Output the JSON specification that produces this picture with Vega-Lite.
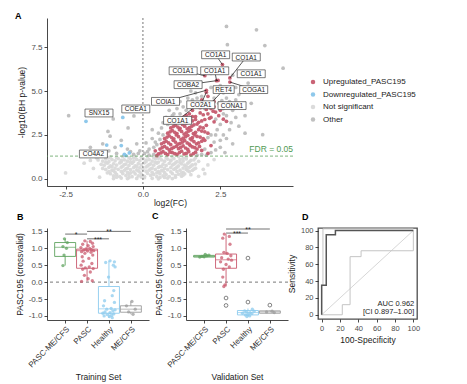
{
"$schema":"https://vega.github.io/schema/vega-lite/v6.json",
"background":"white",
"padding":{"left":15,"top":11,"right":4,"bottom":4},
"config":{"font":"Liberation Sans","view":{"stroke":null},
 "axis":{"grid":false,"domainColor":"#1a1a1a","domainWidth":0.8,"tickColor":"#1a1a1a","tickWidth":0.8,"tickSize":3,"labelColor":"#4d4d4d","labelFontSize":8,"labelPadding":2,"titleFontSize":8.5,"titleFontWeight":"normal","titleColor":"#1a1a1a","labelOverlap":false},
 "title":{"fontSize":9,"fontWeight":"bold","anchor":"start","frame":"group","color":"#000"}},
"resolve":{"scale":{"color":"independent","stroke":"independent"}},
"datasets":{
"volcano":[
{"x":-0.7,"y":0.05,"g":"ns"},{"x":-0.45,"y":0.08,"g":"ns"},{"x":-0.2,"y":0.03,"g":"ns"},{"x":0.05,"y":0.07,"g":"ns"},{"x":0.3,"y":0.04,"g":"ns"},{"x":0.55,"y":0.09,"g":"ns"},{"x":0.8,"y":0.05,"g":"ns"},{"x":1.05,"y":0.1,"g":"ns"},
{"x":-0.95,"y":0.18,"g":"ns"},{"x":-0.75,"y":0.14,"g":"ns"},{"x":-0.55,"y":0.19,"g":"ns"},{"x":-0.35,"y":0.13,"g":"ns"},{"x":-0.15,"y":0.17,"g":"ns"},{"x":0.05,"y":0.15,"g":"ns"},{"x":0.25,"y":0.2,"g":"ns"},{"x":0.45,"y":0.13,"g":"ns"},{"x":0.65,"y":0.18,"g":"ns"},{"x":0.85,"y":0.14,"g":"ns"},{"x":1.05,"y":0.19,"g":"ns"},{"x":1.25,"y":0.16,"g":"ns"},
{"x":-1.05,"y":0.3,"g":"ns"},{"x":-0.85,"y":0.26,"g":"ns"},{"x":-0.65,"y":0.31,"g":"ns"},{"x":-0.45,"y":0.25,"g":"ns"},{"x":-0.25,"y":0.29,"g":"ns"},{"x":-0.05,"y":0.27,"g":"ns"},{"x":0.15,"y":0.32,"g":"ns"},{"x":0.35,"y":0.26,"g":"ns"},{"x":0.55,"y":0.3,"g":"ns"},{"x":0.75,"y":0.25,"g":"ns"},{"x":0.95,"y":0.31,"g":"ns"},{"x":1.15,"y":0.27,"g":"ns"},{"x":1.35,"y":0.29,"g":"ns"},{"x":1.55,"y":0.24,"g":"ns"},
{"x":-1.1,"y":0.42,"g":"ns"},{"x":-0.9,"y":0.38,"g":"ns"},{"x":-0.7,"y":0.43,"g":"ns"},{"x":-0.5,"y":0.37,"g":"ns"},{"x":-0.3,"y":0.41,"g":"ns"},{"x":-0.1,"y":0.39,"g":"ns"},{"x":0.1,"y":0.44,"g":"ns"},{"x":0.3,"y":0.38,"g":"ns"},{"x":0.5,"y":0.42,"g":"ns"},{"x":0.7,"y":0.36,"g":"ns"},{"x":0.9,"y":0.41,"g":"ns"},{"x":1.1,"y":0.43,"g":"ns"},{"x":1.3,"y":0.38,"g":"ns"},{"x":1.5,"y":0.42,"g":"ns"},
{"x":-1.2,"y":0.54,"g":"ns"},{"x":-1.0,"y":0.5,"g":"ns"},{"x":-0.8,"y":0.55,"g":"ns"},{"x":-0.6,"y":0.49,"g":"ns"},{"x":-0.4,"y":0.53,"g":"ns"},{"x":-0.2,"y":0.51,"g":"ns"},{"x":0,"y":0.56,"g":"ns"},{"x":0.2,"y":0.5,"g":"ns"},{"x":0.4,"y":0.54,"g":"ns"},{"x":0.6,"y":0.48,"g":"ns"},{"x":0.8,"y":0.53,"g":"ns"},{"x":1.0,"y":0.55,"g":"ns"},{"x":1.2,"y":0.5,"g":"ns"},{"x":1.4,"y":0.54,"g":"ns"},{"x":1.6,"y":0.49,"g":"ns"},
{"x":-1.1,"y":0.66,"g":"ns"},{"x":-0.9,"y":0.62,"g":"ns"},{"x":-0.7,"y":0.67,"g":"ns"},{"x":-0.5,"y":0.61,"g":"ns"},{"x":-0.3,"y":0.65,"g":"ns"},{"x":-0.1,"y":0.63,"g":"ns"},{"x":0.1,"y":0.68,"g":"ns"},{"x":0.3,"y":0.62,"g":"ns"},{"x":0.5,"y":0.66,"g":"ns"},{"x":0.7,"y":0.6,"g":"ns"},{"x":0.9,"y":0.65,"g":"ns"},{"x":1.1,"y":0.67,"g":"ns"},{"x":1.3,"y":0.62,"g":"ns"},{"x":1.5,"y":0.66,"g":"ns"},{"x":1.7,"y":0.61,"g":"ns"},
{"x":-1.25,"y":0.78,"g":"ns"},{"x":-1.05,"y":0.74,"g":"ns"},{"x":-0.85,"y":0.79,"g":"ns"},{"x":-0.65,"y":0.73,"g":"ns"},{"x":-0.45,"y":0.77,"g":"ns"},{"x":-0.25,"y":0.75,"g":"ns"},{"x":-0.05,"y":0.8,"g":"ns"},{"x":0.15,"y":0.74,"g":"ns"},{"x":0.35,"y":0.78,"g":"ns"},{"x":0.55,"y":0.72,"g":"ns"},{"x":0.75,"y":0.77,"g":"ns"},{"x":0.95,"y":0.79,"g":"ns"},{"x":1.15,"y":0.74,"g":"ns"},{"x":1.35,"y":0.78,"g":"ns"},{"x":1.55,"y":0.73,"g":"ns"},
{"x":-1.15,"y":0.9,"g":"ns"},{"x":-0.95,"y":0.86,"g":"ns"},{"x":-0.75,"y":0.91,"g":"ns"},{"x":-0.55,"y":0.85,"g":"ns"},{"x":-0.35,"y":0.89,"g":"ns"},{"x":-0.15,"y":0.87,"g":"ns"},{"x":0.05,"y":0.92,"g":"ns"},{"x":0.25,"y":0.86,"g":"ns"},{"x":0.45,"y":0.9,"g":"ns"},{"x":0.65,"y":0.84,"g":"ns"},{"x":0.85,"y":0.89,"g":"ns"},{"x":1.05,"y":0.91,"g":"ns"},{"x":1.25,"y":0.86,"g":"ns"},{"x":1.45,"y":0.9,"g":"ns"},{"x":1.7,"y":0.85,"g":"ns"},
{"x":-1.3,"y":1.02,"g":"ns"},{"x":-1.1,"y":0.98,"g":"ns"},{"x":-0.9,"y":1.03,"g":"ns"},{"x":-0.7,"y":0.97,"g":"ns"},{"x":-0.5,"y":1.01,"g":"ns"},{"x":-0.3,"y":0.99,"g":"ns"},{"x":-0.1,"y":1.04,"g":"ns"},{"x":0.1,"y":0.98,"g":"ns"},{"x":0.3,"y":1.02,"g":"ns"},{"x":0.5,"y":0.96,"g":"ns"},{"x":0.7,"y":1.01,"g":"ns"},{"x":0.9,"y":1.03,"g":"ns"},{"x":1.1,"y":0.98,"g":"ns"},{"x":1.3,"y":1.02,"g":"ns"},{"x":1.5,"y":0.97,"g":"ns"},{"x":1.8,"y":1.0,"g":"ns"},
{"x":-1.2,"y":1.14,"g":"ns"},{"x":-1.0,"y":1.1,"g":"ns"},{"x":-0.8,"y":1.15,"g":"ns"},{"x":-0.6,"y":1.09,"g":"ns"},{"x":-0.4,"y":1.13,"g":"ns"},{"x":-0.2,"y":1.11,"g":"ns"},{"x":0,"y":1.16,"g":"ns"},{"x":0.2,"y":1.1,"g":"ns"},{"x":0.4,"y":1.14,"g":"ns"},{"x":0.6,"y":1.08,"g":"ns"},{"x":0.8,"y":1.13,"g":"ns"},{"x":1.0,"y":1.15,"g":"ns"},{"x":1.2,"y":1.1,"g":"ns"},{"x":1.4,"y":1.14,"g":"ns"},{"x":1.65,"y":1.09,"g":"ns"},
{"x":-1.05,"y":1.26,"g":"ns"},{"x":-0.85,"y":1.22,"g":"ns"},{"x":-0.65,"y":1.27,"g":"ns"},{"x":-0.45,"y":1.21,"g":"ns"},{"x":-0.25,"y":1.25,"g":"ns"},{"x":-0.05,"y":1.23,"g":"ns"},{"x":0.15,"y":1.27,"g":"ns"},{"x":0.35,"y":1.22,"g":"ns"},{"x":0.55,"y":1.26,"g":"ns"},{"x":0.75,"y":1.2,"g":"ns"},{"x":0.95,"y":1.25,"g":"ns"},{"x":1.15,"y":1.27,"g":"ns"},{"x":1.4,"y":1.22,"g":"ns"},
{"x":-0.85,"y":0.1,"g":"ns"},{"x":-0.05,"y":0.11,"g":"ns"},{"x":0.7,"y":0.09,"g":"ns"},{"x":1.3,"y":0.22,"g":"ns"},{"x":-1.15,"y":0.35,"g":"ns"},{"x":-0.4,"y":0.34,"g":"ns"},{"x":0.45,"y":0.35,"g":"ns"},{"x":1.25,"y":0.33,"g":"ns"},{"x":-0.95,"y":0.47,"g":"ns"},{"x":-0.15,"y":0.46,"g":"ns"},{"x":0.65,"y":0.47,"g":"ns"},{"x":1.45,"y":0.47,"g":"ns"},{"x":-1.3,"y":0.6,"g":"ns"},{"x":-0.55,"y":0.58,"g":"ns"},{"x":0.25,"y":0.58,"g":"ns"},{"x":1.05,"y":0.6,"g":"ns"},{"x":1.65,"y":0.56,"g":"ns"},{"x":-1.0,"y":0.7,"g":"ns"},{"x":-0.2,"y":0.71,"g":"ns"},{"x":0.6,"y":0.7,"g":"ns"},{"x":1.4,"y":0.71,"g":"ns"},{"x":-1.35,"y":0.83,"g":"ns"},{"x":-0.6,"y":0.82,"g":"ns"},{"x":0.2,"y":0.81,"g":"ns"},{"x":1.0,"y":0.84,"g":"ns"},{"x":1.6,"y":0.8,"g":"ns"},{"x":-1.2,"y":0.95,"g":"ns"},{"x":-0.4,"y":0.94,"g":"ns"},{"x":0.4,"y":0.95,"g":"ns"},{"x":1.2,"y":0.94,"g":"ns"},{"x":-1.45,"y":1.08,"g":"ns"},{"x":-0.7,"y":1.06,"g":"ns"},{"x":0.1,"y":1.07,"g":"ns"},{"x":0.9,"y":1.06,"g":"ns"},{"x":1.55,"y":1.05,"g":"ns"},{"x":-1.1,"y":1.2,"g":"ns"},{"x":-0.3,"y":1.19,"g":"ns"},{"x":0.5,"y":1.18,"g":"ns"},{"x":1.3,"y":1.18,"g":"ns"},{"x":1.7,"y":1.2,"g":"ns"},{"x":-0.5,"y":0.02,"g":"ns"},{"x":0.5,"y":0.01,"g":"ns"},{"x":0.95,"y":0.02,"g":"ns"},{"x":-0.95,"y":0.02,"g":"ns"},
{"x":-2.5,"y":0.34,"g":"ns"},{"x":-1.9,"y":0.9,"g":"ns"},{"x":-1.6,"y":0.6,"g":"ns"},{"x":-1.5,"y":1.2,"g":"ns"},{"x":2.1,"y":0.8,"g":"ns"},{"x":2.3,"y":1.1,"g":"ns"},{"x":2.0,"y":0.3,"g":"ns"},{"x":-1.4,"y":0.1,"g":"ns"},{"x":1.8,"y":0.15,"g":"ns"},{"x":-1.7,"y":1.05,"g":"ns"},{"x":1.95,"y":0.55,"g":"ns"},
{"x":-2.4,"y":3.6,"g":"other"},{"x":-0.96,"y":3.41,"g":"other"},{"x":-1.13,"y":2.7,"g":"other"},{"x":-1.06,"y":2.43,"g":"other"},{"x":-0.48,"y":2.9,"g":"other"},{"x":-0.29,"y":3.58,"g":"other"},{"x":-1.5,"y":1.5,"g":"other"},{"x":-1.3,"y":2.0,"g":"other"},{"x":-1.1,"y":1.6,"g":"other"},{"x":-0.85,"y":1.45,"g":"other"},{"x":-0.5,"y":1.7,"g":"other"},{"x":-0.3,"y":1.4,"g":"other"},{"x":-0.2,"y":2.0,"g":"other"},{"x":-0.7,"y":2.2,"g":"other"},{"x":-1.7,"y":1.8,"g":"other"},{"x":-0.1,"y":1.6,"g":"other"},{"x":-0.6,"y":1.35,"g":"other"},{"x":-1.35,"y":1.35,"g":"other"},
{"x":0.05,"y":1.45,"g":"other"},{"x":0.2,"y":1.7,"g":"other"},{"x":0.35,"y":1.4,"g":"other"},{"x":0.1,"y":2.05,"g":"other"},{"x":0.3,"y":2.3,"g":"other"},{"x":0.45,"y":1.95,"g":"other"},{"x":0.5,"y":2.6,"g":"other"},{"x":0.6,"y":2.9,"g":"other"},{"x":0.65,"y":3.2,"g":"other"},{"x":0.75,"y":3.5,"g":"other"},{"x":0.9,"y":3.4,"g":"other"},{"x":0.85,"y":3.9,"g":"other"},{"x":1.0,"y":3.7,"g":"other"},{"x":1.1,"y":4.0,"g":"other"},{"x":1.2,"y":4.4,"g":"other"},{"x":1.3,"y":4.1,"g":"other"},{"x":1.45,"y":4.6,"g":"other"},{"x":1.6,"y":4.5,"g":"other"},{"x":1.7,"y":4.9,"g":"other"},{"x":1.8,"y":5.3,"g":"other"},{"x":1.55,"y":5.0,"g":"other"},{"x":1.9,"y":4.7,"g":"other"},{"x":2.2,"y":5.2,"g":"other"},{"x":2.5,"y":5.3,"g":"other"},{"x":2.6,"y":4.9,"g":"other"},{"x":2.3,"y":4.6,"g":"other"},{"x":2.45,"y":4.3,"g":"other"},{"x":2.6,"y":4.0,"g":"other"},{"x":2.8,"y":4.4,"g":"other"},{"x":2.9,"y":3.9,"g":"other"},{"x":3.0,"y":4.5,"g":"other"},{"x":3.2,"y":4.2,"g":"other"},{"x":2.7,"y":3.6,"g":"other"},{"x":2.5,"y":3.1,"g":"other"},{"x":2.85,"y":3.2,"g":"other"},{"x":2.4,"y":2.8,"g":"other"},{"x":2.2,"y":2.5,"g":"other"},{"x":2.6,"y":2.5,"g":"other"},{"x":2.3,"y":2.1,"g":"other"},{"x":2.0,"y":1.7,"g":"other"},{"x":2.2,"y":1.5,"g":"other"},{"x":2.5,"y":1.8,"g":"other"},{"x":1.9,"y":1.4,"g":"other"},{"x":2.7,"y":2.3,"g":"other"},{"x":3.1,"y":3.0,"g":"other"},{"x":2.9,"y":5.9,"g":"other"},{"x":3.0,"y":5.2,"g":"other"},{"x":2.2,"y":6.0,"g":"other"},{"x":1.4,"y":3.9,"g":"other"},{"x":0.3,"y":2.8,"g":"other"},{"x":2.73,"y":7.63,"g":"other"},{"x":2.7,"y":8.67,"g":"other"},{"x":3.67,"y":8.48,"g":"other"},{"x":3.94,"y":7.58,"g":"other"},{"x":4.53,"y":6.3,"g":"other"},{"x":3.87,"y":2.52,"g":"other"},{"x":3.4,"y":5.45,"g":"other"},{"x":1.75,"y":1.35,"g":"other"},{"x":2.35,"y":3.4,"g":"other"},{"x":0.2,"y":1.35,"g":"other"},{"x":0.55,"y":2.25,"g":"other"},{"x":1.05,"y":4.3,"g":"other"},{"x":2.0,"y":4.0,"g":"other"},{"x":1.65,"y":4.2,"g":"other"},{"x":3.3,"y":3.6,"g":"other"},
{"x":1.2,"y":3.7,"g":"other"},{"x":1.5,"y":4.3,"g":"other"},{"x":1.75,"y":4.6,"g":"other"},{"x":2.4,"y":5.0,"g":"other"},{"x":2.7,"y":4.6,"g":"other"},{"x":2.55,"y":4.45,"g":"other"},{"x":2.9,"y":4.2,"g":"other"},{"x":3.1,"y":4.8,"g":"other"},{"x":2.35,"y":2.5,"g":"other"},{"x":2.5,"y":2.2,"g":"other"},{"x":2.8,"y":2.8,"g":"other"},{"x":3.0,"y":3.5,"g":"other"},{"x":2.1,"y":2.35,"g":"other"},{"x":2.6,"y":3.7,"g":"other"},{"x":0.4,"y":2.1,"g":"other"},{"x":0.65,"y":2.5,"g":"other"},{"x":0.8,"y":3.1,"g":"other"},{"x":0.95,"y":3.6,"g":"other"},{"x":0.15,"y":1.55,"g":"other"},{"x":0.35,"y":1.8,"g":"other"},{"x":-0.15,"y":1.45,"g":"other"},{"x":-0.4,"y":1.55,"g":"other"},{"x":-0.9,"y":1.8,"g":"other"},{"x":-1.2,"y":1.4,"g":"other"},{"x":2.05,"y":1.35,"g":"other"},{"x":2.35,"y":1.65,"g":"other"},{"x":2.65,"y":1.5,"g":"other"},{"x":2.9,"y":2.0,"g":"other"},{"x":3.3,"y":2.6,"g":"other"},{"x":3.5,"y":4.3,"g":"other"},
{"x":0.5,"y":1.42,"g":"up"},{"x":0.65,"y":1.55,"g":"up"},{"x":0.8,"y":1.38,"g":"up"},{"x":0.95,"y":1.5,"g":"up"},{"x":1.1,"y":1.4,"g":"up"},{"x":1.25,"y":1.58,"g":"up"},{"x":1.4,"y":1.45,"g":"up"},{"x":1.55,"y":1.36,"g":"up"},{"x":1.7,"y":1.52,"g":"up"},
{"x":0.55,"y":1.7,"g":"up"},{"x":0.7,"y":1.85,"g":"up"},{"x":0.85,"y":1.65,"g":"up"},{"x":1.0,"y":1.8,"g":"up"},{"x":1.15,"y":1.72,"g":"up"},{"x":1.3,"y":1.88,"g":"up"},{"x":1.45,"y":1.68,"g":"up"},{"x":1.6,"y":1.82,"g":"up"},{"x":1.75,"y":1.7,"g":"up"},{"x":1.9,"y":1.62,"g":"up"},
{"x":0.6,"y":2.0,"g":"up"},{"x":0.75,"y":2.15,"g":"up"},{"x":0.9,"y":1.95,"g":"up"},{"x":1.05,"y":2.1,"g":"up"},{"x":1.2,"y":2.02,"g":"up"},{"x":1.35,"y":2.18,"g":"up"},{"x":1.5,"y":1.98,"g":"up"},{"x":1.65,"y":2.12,"g":"up"},{"x":1.8,"y":2.05,"g":"up"},{"x":2.0,"y":2.2,"g":"up"},
{"x":0.7,"y":2.3,"g":"up"},{"x":0.85,"y":2.45,"g":"up"},{"x":1.0,"y":2.28,"g":"up"},{"x":1.15,"y":2.4,"g":"up"},{"x":1.3,"y":2.32,"g":"up"},{"x":1.45,"y":2.48,"g":"up"},{"x":1.6,"y":2.35,"g":"up"},{"x":1.75,"y":2.42,"g":"up"},{"x":1.95,"y":2.3,"g":"up"},
{"x":0.8,"y":2.6,"g":"up"},{"x":0.95,"y":2.75,"g":"up"},{"x":1.1,"y":2.58,"g":"up"},{"x":1.25,"y":2.7,"g":"up"},{"x":1.4,"y":2.62,"g":"up"},{"x":1.55,"y":2.78,"g":"up"},{"x":1.7,"y":2.65,"g":"up"},{"x":1.9,"y":2.72,"g":"up"},{"x":2.1,"y":2.6,"g":"up"},
{"x":0.9,"y":2.9,"g":"up"},{"x":1.05,"y":3.05,"g":"up"},{"x":1.2,"y":2.88,"g":"up"},{"x":1.35,"y":3.0,"g":"up"},{"x":1.5,"y":2.92,"g":"up"},{"x":1.65,"y":3.08,"g":"up"},{"x":1.85,"y":2.95,"g":"up"},{"x":2.05,"y":3.05,"g":"up"},
{"x":1.0,"y":3.2,"g":"up"},{"x":1.2,"y":3.35,"g":"up"},{"x":1.4,"y":3.18,"g":"up"},{"x":1.6,"y":3.3,"g":"up"},{"x":1.8,"y":3.22,"g":"up"},{"x":2.0,"y":3.38,"g":"up"},{"x":2.3,"y":3.25,"g":"up"},
{"x":1.3,"y":3.5,"g":"up"},{"x":1.5,"y":3.7,"g":"up"},{"x":1.7,"y":3.55,"g":"up"},{"x":1.95,"y":3.65,"g":"up"},{"x":2.2,"y":3.5,"g":"up"},{"x":2.45,"y":3.6,"g":"up"},
{"x":1.6,"y":3.9,"g":"up"},{"x":1.85,"y":4.05,"g":"up"},{"x":2.05,"y":3.95,"g":"up"},{"x":2.3,"y":4.1,"g":"up"},
{"x":1.9,"y":4.5,"g":"up"},{"x":2.1,"y":4.7,"g":"up"},{"x":2.3,"y":4.4,"g":"up"},
{"x":0.58,"y":1.48,"g":"up"},{"x":0.73,"y":1.45,"g":"up"},{"x":0.88,"y":1.52,"g":"up"},{"x":1.03,"y":1.44,"g":"up"},{"x":1.18,"y":1.5,"g":"up"},{"x":1.33,"y":1.42,"g":"up"},{"x":1.48,"y":1.55,"g":"up"},{"x":1.63,"y":1.44,"g":"up"},
{"x":0.62,"y":1.78,"g":"up"},{"x":0.78,"y":1.75,"g":"up"},{"x":0.93,"y":1.72,"g":"up"},{"x":1.08,"y":1.86,"g":"up"},{"x":1.22,"y":1.8,"g":"up"},{"x":1.38,"y":1.76,"g":"up"},{"x":1.53,"y":1.9,"g":"up"},{"x":1.68,"y":1.78,"g":"up"},{"x":1.83,"y":1.85,"g":"up"},
{"x":0.68,"y":2.08,"g":"up"},{"x":0.83,"y":2.05,"g":"up"},{"x":0.98,"y":2.2,"g":"up"},{"x":1.13,"y":1.98,"g":"up"},{"x":1.28,"y":2.1,"g":"up"},{"x":1.43,"y":2.05,"g":"up"},{"x":1.58,"y":2.22,"g":"up"},{"x":1.73,"y":2.0,"g":"up"},{"x":1.9,"y":2.15,"g":"up"},
{"x":0.78,"y":2.38,"g":"up"},{"x":0.93,"y":2.35,"g":"up"},{"x":1.08,"y":2.5,"g":"up"},{"x":1.23,"y":2.25,"g":"up"},{"x":1.38,"y":2.4,"g":"up"},{"x":1.53,"y":2.28,"g":"up"},{"x":1.68,"y":2.5,"g":"up"},{"x":1.85,"y":2.38,"g":"up"},
{"x":0.88,"y":2.68,"g":"up"},{"x":1.03,"y":2.65,"g":"up"},{"x":1.18,"y":2.8,"g":"up"},{"x":1.33,"y":2.55,"g":"up"},{"x":1.48,"y":2.72,"g":"up"},{"x":1.63,"y":2.58,"g":"up"},{"x":1.8,"y":2.8,"g":"up"},{"x":2.0,"y":2.68,"g":"up"},
{"x":0.98,"y":2.98,"g":"up"},{"x":1.13,"y":2.95,"g":"up"},{"x":1.28,"y":3.1,"g":"up"},{"x":1.43,"y":2.85,"g":"up"},{"x":1.58,"y":3.0,"g":"up"},{"x":1.75,"y":3.12,"g":"up"},{"x":1.95,"y":2.9,"g":"up"},
{"x":1.1,"y":3.28,"g":"up"},{"x":1.3,"y":3.25,"g":"up"},{"x":1.5,"y":3.4,"g":"up"},{"x":1.7,"y":3.38,"g":"up"},{"x":1.9,"y":3.3,"g":"up"},{"x":2.15,"y":3.45,"g":"up"},
{"x":1.4,"y":3.62,"g":"up"},{"x":1.6,"y":3.55,"g":"up"},{"x":1.85,"y":3.75,"g":"up"},{"x":2.1,"y":3.7,"g":"up"},{"x":2.35,"y":3.8,"g":"up"},
{"x":1.75,"y":4.2,"g":"up"},{"x":1.95,"y":4.25,"g":"up"},{"x":2.2,"y":4.0,"g":"up"},
{"x":2.0,"y":5.87,"g":"up"},{"x":2.38,"y":5.59,"g":"up"},{"x":2.43,"y":5.6,"g":"up"},{"x":2.57,"y":6.5,"g":"up"},{"x":2.81,"y":5.74,"g":"up"},{"x":2.81,"y":5.51,"g":"up"},{"x":2.05,"y":5.04,"g":"up"},{"x":2.05,"y":4.93,"g":"up"},{"x":1.84,"y":4.32,"g":"up"},{"x":2.16,"y":4.22,"g":"up"},{"x":2.7,"y":3.28,"g":"up"},{"x":2.27,"y":3.85,"g":"up"},{"x":2.6,"y":3.4,"g":"up"},{"x":2.5,"y":3.9,"g":"up"},{"x":0.45,"y":1.32,"g":"up"},{"x":0.4,"y":1.6,"g":"up"},{"x":2.1,"y":1.45,"g":"up"},{"x":2.2,"y":1.9,"g":"up"},
{"x":-1.84,"y":3.28,"g":"down"},{"x":-0.65,"y":3.5,"g":"down"},{"x":-1.17,"y":1.93,"g":"down"},{"x":-0.7,"y":1.9,"g":"down"},{"x":-0.6,"y":1.4,"g":"down"},{"x":-0.44,"y":1.48,"g":"down"},{"x":-0.55,"y":1.33,"g":"down"}
],
"labels":[
{"gene":"CO1A1","lx":2.35,"ly":7.06,"px":2.57,"py":6.5},
{"gene":"CO1A1","lx":3.34,"ly":6.93,"px":2.81,"py":5.74},
{"gene":"CO1A1","lx":1.3,"ly":6.15,"px":2.0,"py":5.87},
{"gene":"CO1A1","lx":2.32,"ly":6.15,"px":2.38,"py":5.59},
{"gene":"CO1A1","lx":3.5,"ly":5.98},
{"gene":"COBA2","lx":1.46,"ly":5.36,"px":2.43,"py":5.6},
{"gene":"RET4","lx":2.61,"ly":5.08,"px":2.16,"py":4.22},
{"gene":"COGA1","lx":3.58,"ly":5.08,"px":2.81,"py":5.51},
{"gene":"COIA1","lx":0.73,"ly":4.41,"px":2.05,"py":5.04},
{"gene":"CO2A1","lx":1.87,"ly":4.22,"px":2.05,"py":4.93},
{"gene":"CONA1","lx":2.88,"ly":4.17},
{"gene":"CO1A1","lx":1.12,"ly":3.33,"px":1.84,"py":4.32},
{"gene":"SNX15","lx":-1.42,"ly":3.75},
{"gene":"COEA1","lx":-0.23,"ly":3.98},
{"gene":"CO4A2","lx":-1.6,"ly":1.42}
],
"boxB":[
{"x":1,"g":"PASC-ME/CFS","lo":0.49,"q1":0.76,"med":1.03,"q3":1.17,"hi":1.28},
{"x":2,"g":"PASC","lo":0.02,"q1":0.41,"med":0.93,"q3":0.975,"hi":1.22},
{"x":3,"g":"Healthy","lo":-1.06,"q1":-0.92,"med":-0.79,"q3":-0.13,"hi":0.63},
{"x":4,"g":"ME/CFS","lo":-0.95,"q1":-0.89,"med":-0.8,"q3":-0.7,"hi":-0.57}],
"ptsB":[
{"x":0.97,"v":1.28,"g":"PASC-ME/CFS"},{"x":1.1,"v":1.17,"g":"PASC-ME/CFS"},{"x":0.9,"v":1.05,"g":"PASC-ME/CFS"},{"x":1.06,"v":1.0,"g":"PASC-ME/CFS"},{"x":0.95,"v":0.8,"g":"PASC-ME/CFS"},{"x":0.9,"v":0.49,"g":"PASC-ME/CFS"},
{"x":1.9,"v":1.22,"g":"PASC"},{"x":2.15,"v":1.2,"g":"PASC"},{"x":2.25,"v":1.15,"g":"PASC"},{"x":1.8,"v":1.12,"g":"PASC"},{"x":2.05,"v":1.08,"g":"PASC"},{"x":2.28,"v":1.05,"g":"PASC"},{"x":1.72,"v":1.02,"g":"PASC"},{"x":2.12,"v":1.0,"g":"PASC"},{"x":1.95,"v":0.98,"g":"PASC"},{"x":2.2,"v":0.96,"g":"PASC"},{"x":1.85,"v":0.95,"g":"PASC"},{"x":2.3,"v":0.93,"g":"PASC"},{"x":2.02,"v":0.92,"g":"PASC"},{"x":1.75,"v":0.9,"g":"PASC"},{"x":2.18,"v":0.88,"g":"PASC"},{"x":1.9,"v":0.85,"g":"PASC"},{"x":2.26,"v":0.8,"g":"PASC"},{"x":1.78,"v":0.75,"g":"PASC"},{"x":2.08,"v":0.7,"g":"PASC"},{"x":1.82,"v":0.62,"g":"PASC"},{"x":2.22,"v":0.55,"g":"PASC"},{"x":1.73,"v":0.5,"g":"PASC"},{"x":2.1,"v":0.45,"g":"PASC"},{"x":1.92,"v":0.42,"g":"PASC"},{"x":2.28,"v":0.4,"g":"PASC"},{"x":1.8,"v":0.38,"g":"PASC"},{"x":2.15,"v":0.3,"g":"PASC"},{"x":1.88,"v":0.2,"g":"PASC"},{"x":2.05,"v":0.1,"g":"PASC"},{"x":2.24,"v":0.04,"g":"PASC"},{"x":1.75,"v":0.02,"g":"PASC"},
{"x":3.05,"v":0.63,"g":"Healthy"},{"x":3.25,"v":0.6,"g":"Healthy"},{"x":2.85,"v":0.58,"g":"Healthy"},{"x":3.2,"v":0.5,"g":"Healthy"},{"x":3.28,"v":0.45,"g":"Healthy"},{"x":2.98,"v":0.15,"g":"Healthy"},{"x":3.22,"v":-0.25,"g":"Healthy"},{"x":3.15,"v":-0.4,"g":"Healthy"},{"x":2.8,"v":-0.55,"g":"Healthy"},{"x":3.25,"v":-0.6,"g":"Healthy"},{"x":2.75,"v":-0.7,"g":"Healthy"},{"x":3.1,"v":-0.78,"g":"Healthy"},{"x":2.9,"v":-0.8,"g":"Healthy"},{"x":3.28,"v":-0.82,"g":"Healthy"},{"x":3.18,"v":-0.85,"g":"Healthy"},{"x":2.82,"v":-0.88,"g":"Healthy"},{"x":3.05,"v":-0.9,"g":"Healthy"},{"x":2.72,"v":-0.92,"g":"Healthy"},{"x":3.22,"v":-0.94,"g":"Healthy"},{"x":2.92,"v":-0.96,"g":"Healthy"},{"x":3.12,"v":-0.98,"g":"Healthy"},{"x":2.78,"v":-1.0,"g":"Healthy"},{"x":3.02,"v":-1.02,"g":"Healthy"},{"x":3.15,"v":-1.05,"g":"Healthy"},
{"x":4.05,"v":-0.57,"g":"ME/CFS"},{"x":3.8,"v":-0.7,"g":"ME/CFS"},{"x":4.2,"v":-0.8,"g":"ME/CFS"},{"x":3.9,"v":-0.88,"g":"ME/CFS"},{"x":4.1,"v":-0.95,"g":"ME/CFS"}],
"brB":[{"x":1,"x2":2,"xm":1.5,"v":1.42,"s":"*"},{"x":2,"x2":3,"xm":2.5,"v":1.28,"s":"***"},{"x":2,"x2":4,"xm":3,"v":1.5,"s":"**"}],
"boxC":[
{"x":1,"g":"PASC-ME/CFS","lo":0.72,"q1":0.74,"med":0.76,"q3":0.79,"hi":0.82},
{"x":2,"g":"PASC","lo":-0.13,"q1":0.41,"med":0.66,"q3":0.83,"hi":1.42},
{"x":3,"g":"Healthy","lo":-1.02,"q1":-0.97,"med":-0.9,"q3":-0.84,"hi":-0.78},
{"x":4,"g":"ME/CFS","lo":-0.92,"q1":-0.92,"med":-0.88,"q3":-0.85,"hi":-0.84}],
"ptsC":[
{"x":0.8,"v":0.74,"g":"PASC-ME/CFS"},{"x":0.9,"v":0.76,"g":"PASC-ME/CFS"},{"x":1.0,"v":0.75,"g":"PASC-ME/CFS"},{"x":1.12,"v":0.78,"g":"PASC-ME/CFS"},{"x":1.22,"v":0.8,"g":"PASC-ME/CFS"},{"x":1.05,"v":0.82,"g":"PASC-ME/CFS"},
{"x":1.92,"v":1.42,"g":"PASC"},{"x":2.15,"v":1.35,"g":"PASC"},{"x":1.85,"v":1.3,"g":"PASC"},{"x":2.18,"v":1.12,"g":"PASC"},{"x":1.9,"v":0.88,"g":"PASC"},{"x":2.05,"v":0.85,"g":"PASC"},{"x":2.22,"v":0.78,"g":"PASC"},{"x":1.8,"v":0.72,"g":"PASC"},{"x":2.1,"v":0.68,"g":"PASC"},{"x":2.25,"v":0.65,"g":"PASC"},{"x":1.75,"v":0.6,"g":"PASC"},{"x":2.0,"v":0.52,"g":"PASC"},{"x":2.15,"v":0.45,"g":"PASC"},{"x":1.88,"v":0.38,"g":"PASC"},{"x":1.85,"v":0.15,"g":"PASC"},{"x":1.95,"v":-0.08,"g":"PASC"},{"x":1.9,"v":-0.13,"g":"PASC"},
{"x":3.2,"v":-0.8,"g":"Healthy"},{"x":2.85,"v":-0.85,"g":"Healthy"},{"x":3.28,"v":-0.86,"g":"Healthy"},{"x":2.95,"v":-0.88,"g":"Healthy"},{"x":3.1,"v":-0.9,"g":"Healthy"},{"x":2.75,"v":-0.92,"g":"Healthy"},{"x":3.18,"v":-0.93,"g":"Healthy"},{"x":3.0,"v":-0.95,"g":"Healthy"},{"x":2.88,"v":-0.97,"g":"Healthy"},{"x":3.08,"v":-1.0,"g":"Healthy"},{"x":2.95,"v":-1.02,"g":"Healthy"},
{"x":4.1,"v":-0.86,"g":"ME/CFS"},{"x":3.85,"v":-0.88,"g":"ME/CFS"},{"x":4.2,"v":-0.9,"g":"ME/CFS"}],
"outC":[{"x":2,"v":-0.47},{"x":2,"v":-0.69},{"x":3,"v":0.71},{"x":3,"v":-0.59},{"x":4,"v":-0.68}],
"brC":[{"x":2,"x2":3,"xm":2.5,"v":1.45,"s":"***"},{"x":2,"x2":4,"xm":3,"v":1.57,"s":"**"}],
"roc":[
{"c":"diag","fx":0,"ty":0,"o":1},{"c":"diag","fx":100,"ty":100,"o":2},
{"c":"lo","fx":0,"ty":0,"o":1},{"c":"lo","fx":22.5,"ty":0,"o":2},{"c":"lo","fx":22.5,"ty":12,"o":3},{"c":"lo","fx":31,"ty":12,"o":4},{"c":"lo","fx":31,"ty":69,"o":5},{"c":"lo","fx":43,"ty":69,"o":6},{"c":"lo","fx":43,"ty":76,"o":7},{"c":"lo","fx":100,"ty":76,"o":8},{"c":"lo","fx":100,"ty":100,"o":9},
{"c":"hi","fx":0,"ty":0,"o":1},{"c":"hi","fx":0,"ty":35,"o":2},{"c":"hi","fx":1.4,"ty":35,"o":3},{"c":"hi","fx":1.4,"ty":102,"o":4},{"c":"hi","fx":100,"ty":102,"o":5},
{"c":"main","fx":0,"ty":0,"o":1},{"c":"main","fx":0,"ty":35,"o":2},{"c":"main","fx":5,"ty":35,"o":3},{"c":"main","fx":5,"ty":95,"o":4},{"c":"main","fx":15,"ty":95,"o":5},{"c":"main","fx":15,"ty":100,"o":6},{"c":"main","fx":100,"ty":100,"o":7}]
},
"bounds":"flush",
"spacing":42,
"vconcat":[
{"width":246,"height":168,
 "title":{"text":"A","dx":-32,"offset":-3},
 "layer":[
  {"data":{"name":"volcano"},"mark":{"type":"point","filled":true,"size":14,"opacity":0.95,"strokeWidth":0},
   "encoding":{
    "x":{"field":"x","type":"quantitative","scale":{"domain":[-3.1,4.85],"nice":false,"zero":false},"axis":{"values":[-2.5,0,2.5],"title":"log2(FC)","titlePadding":0,"labelPadding":1,"labelExpr":"datum.value < 0 ? '-' + format(-datum.value,'.1f') : format(datum.value,'.1f')"}},
    "y":{"field":"y","type":"quantitative","scale":{"domain":[-0.4,9.15],"nice":false,"zero":false},"axis":{"values":[0,2.5,5,7.5],"title":"-log10(BH p-value)","labelExpr":"format(datum.value,'.1f')"}},
    "color":{"field":"g","type":"nominal","scale":{"domain":["up","down","ns","other"],"range":["#c65b6f","#88c5ea","#d9d9d9","#bdbdbd"]},
      "legend":{"title":null,"orient":"none","legendX":262,"legendY":60,"labelFontSize":8,"labelColor":"#222","symbolSize":20,"symbolType":"circle","rowPadding":4.5,"labelOffset":6,
      "labelExpr":"datum.label == 'up' ? 'Upregulated_PASC195' : datum.label == 'down' ? 'Downregulated_PASC195' : datum.label == 'ns' ? 'Not significant' : 'Other'"}}}},
  {"data":{"values":[{"x":0}]},"mark":{"type":"rule","strokeDash":[2,2],"color":"#666","strokeWidth":0.9},
   "encoding":{"x":{"field":"x","type":"quantitative","scale":{"domain":[-3.1,4.85],"nice":false,"zero":false}}}},
  {"data":{"values":[{"y":1.3}]},"mark":{"type":"rule","strokeDash":[3,2],"color":"#5fa35f","strokeWidth":0.8},
   "encoding":{"y":{"field":"y","type":"quantitative","scale":{"domain":[-0.4,9.15],"nice":false,"zero":false}}}},
  {"data":{"values":[{"x":4.85,"y":1.3,"t":"FDR = 0.05"}]},"mark":{"type":"text","align":"right","baseline":"bottom","dy":-2,"fontSize":8.5,"color":"#4f9a52"},
   "encoding":{"x":{"field":"x","type":"quantitative","scale":{"domain":[-3.1,4.85],"nice":false,"zero":false}},
    "y":{"field":"y","type":"quantitative","scale":{"domain":[-0.4,9.15],"nice":false,"zero":false}},"text":{"field":"t"}}},
  {"data":{"name":"labels"},"mark":{"type":"rule","color":"#111","strokeWidth":0.7},
   "encoding":{"x":{"field":"lx","type":"quantitative","scale":{"domain":[-3.1,4.85],"nice":false,"zero":false}},
    "y":{"field":"ly","type":"quantitative","scale":{"domain":[-0.4,9.15],"nice":false,"zero":false}},
    "x2":{"field":"px"},"y2":{"field":"py"}}},
  {"data":{"name":"labels"},"transform":[{"filter":"datum.gene != 'RET4'"}],
   "mark":{"type":"point","shape":"M-1,-0.28L1,-0.28L1,0.28L-1,0.28Z","size":784,"filled":true,"fill":"white","stroke":"#444","strokeWidth":0.7,"opacity":1},
   "encoding":{"x":{"field":"lx","type":"quantitative","scale":{"domain":[-3.1,4.85],"nice":false,"zero":false}},
    "y":{"field":"ly","type":"quantitative","scale":{"domain":[-0.4,9.15],"nice":false,"zero":false}}}},
  {"data":{"name":"labels"},"transform":[{"filter":"datum.gene == 'RET4'"}],
   "mark":{"type":"point","shape":"M-1,-0.37L1,-0.37L1,0.37L-1,0.37Z","size":441,"filled":true,"fill":"white","stroke":"#444","strokeWidth":0.7,"opacity":1},
   "encoding":{"x":{"field":"lx","type":"quantitative","scale":{"domain":[-3.1,4.85],"nice":false,"zero":false}},
    "y":{"field":"ly","type":"quantitative","scale":{"domain":[-0.4,9.15],"nice":false,"zero":false}}}},
  {"data":{"name":"labels"},"mark":{"type":"text","fontSize":6.5,"color":"#222","baseline":"middle","dy":0.5},
   "encoding":{"x":{"field":"lx","type":"quantitative","scale":{"domain":[-3.1,4.85],"nice":false,"zero":false}},
    "y":{"field":"ly","type":"quantitative","scale":{"domain":[-0.4,9.15],"nice":false,"zero":false}},"text":{"field":"gene"}}}
 ]},
{"bounds":"flush","spacing":37,"resolve":{"scale":{"color":"independent","stroke":"independent"}},"hconcat":[
 {"width":102,"height":92,"title":{"text":"B","dx":-30,"offset":5},
  "encoding":{
   "x":{"field":"x","type":"quantitative","scale":{"domain":[0.4,4.6],"nice":false,"zero":false},
     "axis":{"values":[1,2,3,4],"title":"Training Set","labelAngle":-45,"labelAlign":"right","labelBaseline":"top","labelOverlap":false,"labelBound":false,"labelExpr":"datum.value == 1 ? 'PASC-ME/CFS' : datum.value == 2 ? 'PASC' : datum.value == 3 ? 'Healthy' : 'ME/CFS'","labelColor":"#333"}},
   "y":{"field":"v","type":"quantitative","scale":{"domain":[-1.12,1.6],"nice":false,"zero":false},
     "axis":{"values":[-1,-0.5,0,0.5,1,1.5],"title":"PASC195 (crossvalid)","labelOverlap":false,"labelExpr":"datum.value < 0 ? '-' + format(-datum.value,'.1f') : format(datum.value,'.1f')"}}},
  "layer":[
   {"data":{"values":[{"v":0}]},"mark":{"type":"rule","strokeDash":[3,3],"color":"#555","strokeWidth":0.8},
    "encoding":{"x":null}},
   {"data":{"name":"boxB"},"mark":{"type":"bar","width":21,"fill":"white","fillOpacity":0,"strokeWidth":0.9},
    "encoding":{
     "y":{"field":"q1","type":"quantitative","scale":{"domain":[-1.12,1.6],"nice":false,"zero":false},
       "axis":{"values":[-1,-0.5,0,0.5,1,1.5],"title":"PASC195 (crossvalid)","labelOverlap":false,"labelExpr":"datum.value < 0 ? '-' + format(-datum.value,'.1f') : format(datum.value,'.1f')"}},
     "y2":{"field":"q3"},
     "stroke":{"field":"g","type":"nominal","scale":{"domain":["PASC-ME/CFS","PASC","Healthy","ME/CFS"],"range":["#5fa35f","#c9596e","#8ccbee","#9c9c9c"]},"legend":null}}},
   {"data":{"name":"boxB"},"mark":{"type":"rule","strokeWidth":0.9},
    "encoding":{
     "y":{"field":"lo","type":"quantitative","scale":{"domain":[-1.12,1.6],"nice":false,"zero":false},
       "axis":{"values":[-1,-0.5,0,0.5,1,1.5],"title":"PASC195 (crossvalid)","labelOverlap":false,"labelExpr":"datum.value < 0 ? '-' + format(-datum.value,'.1f') : format(datum.value,'.1f')"}},
     "y2":{"field":"q1"},
     "color":{"field":"g","type":"nominal","scale":{"domain":["PASC-ME/CFS","PASC","Healthy","ME/CFS"],"range":["#5fa35f","#c9596e","#8ccbee","#9c9c9c"]},"legend":null}}},
   {"data":{"name":"boxB"},"mark":{"type":"rule","strokeWidth":0.9},
    "encoding":{
     "y":{"field":"q3","type":"quantitative","scale":{"domain":[-1.12,1.6],"nice":false,"zero":false},
       "axis":{"values":[-1,-0.5,0,0.5,1,1.5],"title":"PASC195 (crossvalid)","labelOverlap":false,"labelExpr":"datum.value < 0 ? '-' + format(-datum.value,'.1f') : format(datum.value,'.1f')"}},
     "y2":{"field":"hi"},
     "color":{"field":"g","type":"nominal","scale":{"domain":["PASC-ME/CFS","PASC","Healthy","ME/CFS"],"range":["#5fa35f","#c9596e","#8ccbee","#9c9c9c"]},"legend":null}}},
   {"data":{"name":"boxB"},"mark":{"type":"tick","orient":"horizontal","size":21,"thickness":1},
    "encoding":{
     "y":{"field":"med","type":"quantitative","scale":{"domain":[-1.12,1.6],"nice":false,"zero":false},
       "axis":{"values":[-1,-0.5,0,0.5,1,1.5],"title":"PASC195 (crossvalid)","labelOverlap":false,"labelExpr":"datum.value < 0 ? '-' + format(-datum.value,'.1f') : format(datum.value,'.1f')"}},
     "color":{"field":"g","type":"nominal","scale":{"domain":["PASC-ME/CFS","PASC","Healthy","ME/CFS"],"range":["#5fa35f","#c9596e","#8ccbee","#9c9c9c"]},"legend":null}}},
   {"data":{"name":"ptsB"},"mark":{"type":"point","filled":true,"size":11,"opacity":0.75,"strokeWidth":0},
    "encoding":{
     "color":{"field":"g","type":"nominal","scale":{"domain":["PASC-ME/CFS","PASC","Healthy","ME/CFS"],"range":["#5fa35f","#c9596e","#8ccbee","#9c9c9c"]},"legend":null}}},
   {"data":{"name":"brB"},"mark":{"type":"rule","color":"#333","strokeWidth":0.7},
    "encoding":{"x2":{"field":"x2"}}},
   {"data":{"name":"brB"},"mark":{"type":"text","fontSize":7,"baseline":"alphabetic","dy":3,"color":"#222"},
    "encoding":{
     "x":{"field":"xm","type":"quantitative","scale":{"domain":[0.4,4.6],"nice":false,"zero":false},
       "axis":{"values":[1,2,3,4],"title":"Training Set","labelAngle":-45,"labelAlign":"right","labelBaseline":"top","labelOverlap":false,"labelBound":false,"labelExpr":"datum.value == 1 ? 'PASC-ME/CFS' : datum.value == 2 ? 'PASC' : datum.value == 3 ? 'Healthy' : 'ME/CFS'","labelColor":"#333"}},
     "text":{"field":"s"}}}
  ]},
 {"bounds":"flush","spacing":30,"resolve":{"scale":{"color":"independent","stroke":"independent"}},"hconcat":[
  {"width":102,"height":92,"title":{"text":"C","dx":-34,"offset":5},
   "encoding":{
    "x":{"field":"x","type":"quantitative","scale":{"domain":[0.4,4.6],"nice":false,"zero":false},
      "axis":{"values":[1,2,3,4],"title":"Validation Set","labelAngle":-45,"labelAlign":"right","labelBaseline":"top","labelOverlap":false,"labelBound":false,"labelExpr":"datum.value == 1 ? 'PASC-ME/CFS' : datum.value == 2 ? 'PASC' : datum.value == 3 ? 'Healthy' : 'ME/CFS'","labelColor":"#333"}},
    "y":{"field":"v","type":"quantitative","scale":{"domain":[-1.12,1.6],"nice":false,"zero":false},
      "axis":{"values":[-1,-0.5,0,0.5,1,1.5],"title":"PASC195 (crossvalid)","labelOverlap":false,"labelExpr":"datum.value < 0 ? '-' + format(-datum.value,'.1f') : format(datum.value,'.1f')"}}},
   "layer":[
    {"data":{"values":[{"v":0}]},"mark":{"type":"rule","strokeDash":[3,3],"color":"#555","strokeWidth":0.8},
     "encoding":{"x":null}},
    {"data":{"name":"boxC"},"mark":{"type":"bar","width":21,"fill":"white","fillOpacity":0,"strokeWidth":0.9},
     "encoding":{
      "y":{"field":"q1","type":"quantitative","scale":{"domain":[-1.12,1.6],"nice":false,"zero":false},
        "axis":{"values":[-1,-0.5,0,0.5,1,1.5],"title":"PASC195 (crossvalid)","labelOverlap":false,"labelExpr":"datum.value < 0 ? '-' + format(-datum.value,'.1f') : format(datum.value,'.1f')"}},
      "y2":{"field":"q3"},
      "stroke":{"field":"g","type":"nominal","scale":{"domain":["PASC-ME/CFS","PASC","Healthy","ME/CFS"],"range":["#5fa35f","#c9596e","#8ccbee","#9c9c9c"]},"legend":null}}},
    {"data":{"name":"boxC"},"mark":{"type":"rule","strokeWidth":0.9},
     "encoding":{
      "y":{"field":"lo","type":"quantitative","scale":{"domain":[-1.12,1.6],"nice":false,"zero":false},
        "axis":{"values":[-1,-0.5,0,0.5,1,1.5],"title":"PASC195 (crossvalid)","labelOverlap":false,"labelExpr":"datum.value < 0 ? '-' + format(-datum.value,'.1f') : format(datum.value,'.1f')"}},
      "y2":{"field":"q1"},
      "color":{"field":"g","type":"nominal","scale":{"domain":["PASC-ME/CFS","PASC","Healthy","ME/CFS"],"range":["#5fa35f","#c9596e","#8ccbee","#9c9c9c"]},"legend":null}}},
    {"data":{"name":"boxC"},"mark":{"type":"rule","strokeWidth":0.9},
     "encoding":{
      "y":{"field":"q3","type":"quantitative","scale":{"domain":[-1.12,1.6],"nice":false,"zero":false},
        "axis":{"values":[-1,-0.5,0,0.5,1,1.5],"title":"PASC195 (crossvalid)","labelOverlap":false,"labelExpr":"datum.value < 0 ? '-' + format(-datum.value,'.1f') : format(datum.value,'.1f')"}},
      "y2":{"field":"hi"},
      "color":{"field":"g","type":"nominal","scale":{"domain":["PASC-ME/CFS","PASC","Healthy","ME/CFS"],"range":["#5fa35f","#c9596e","#8ccbee","#9c9c9c"]},"legend":null}}},
    {"data":{"name":"boxC"},"mark":{"type":"tick","orient":"horizontal","size":21,"thickness":1},
     "encoding":{
      "y":{"field":"med","type":"quantitative","scale":{"domain":[-1.12,1.6],"nice":false,"zero":false},
        "axis":{"values":[-1,-0.5,0,0.5,1,1.5],"title":"PASC195 (crossvalid)","labelOverlap":false,"labelExpr":"datum.value < 0 ? '-' + format(-datum.value,'.1f') : format(datum.value,'.1f')"}},
      "color":{"field":"g","type":"nominal","scale":{"domain":["PASC-ME/CFS","PASC","Healthy","ME/CFS"],"range":["#5fa35f","#c9596e","#8ccbee","#9c9c9c"]},"legend":null}}},
    {"data":{"name":"outC"},"mark":{"type":"point","filled":false,"size":14,"color":"#222","strokeWidth":0.8}},
    {"data":{"name":"ptsC"},"mark":{"type":"point","filled":true,"size":11,"opacity":0.75,"strokeWidth":0},
     "encoding":{
      "color":{"field":"g","type":"nominal","scale":{"domain":["PASC-ME/CFS","PASC","Healthy","ME/CFS"],"range":["#5fa35f","#c9596e","#8ccbee","#9c9c9c"]},"legend":null}}},
    {"data":{"name":"brC"},"mark":{"type":"rule","color":"#333","strokeWidth":0.7},
     "encoding":{"x2":{"field":"x2"}}},
    {"data":{"name":"brC"},"mark":{"type":"text","fontSize":7,"baseline":"alphabetic","dy":3,"color":"#222"},
     "encoding":{
      "x":{"field":"xm","type":"quantitative","scale":{"domain":[0.4,4.6],"nice":false,"zero":false},
        "axis":{"values":[1,2,3,4],"title":"Validation Set","labelAngle":-45,"labelAlign":"right","labelBaseline":"top","labelOverlap":false,"labelBound":false,"labelExpr":"datum.value == 1 ? 'PASC-ME/CFS' : datum.value == 2 ? 'PASC' : datum.value == 3 ? 'Healthy' : 'ME/CFS'","labelColor":"#333"}},
      "text":{"field":"s"}}}
   ]},
  {"width":99,"height":91,"title":{"text":"D","dx":-16,"offset":5},
   "view":{"stroke":"#4d4d4d","strokeWidth":1.3},
   "encoding":{
    "x":{"field":"fx","type":"quantitative","scale":{"domain":[-4,104],"nice":false,"zero":false},"axis":{"values":[0,20,40,60,80,100],"title":"100-Specificity","domain":false,"labelFontSize":7.5,"labelBound":false,"labelOverlap":false,"labelFlush":false}},
    "y":{"field":"ty","type":"quantitative","scale":{"domain":[-5,103],"nice":false,"zero":false},"axis":{"values":[0,20,40,60,80,100],"title":"Sensitivity","domain":false,"labelFontSize":7.5,"labelBound":false,"labelOverlap":false,"labelFlush":false}}},
   "layer":[
    {"data":{"name":"roc"},"transform":[{"filter":"datum.c == 'diag'"}],"mark":{"type":"line","color":"#bbbbbb","strokeWidth":0.6},
     "encoding":{"order":{"field":"o","type":"quantitative"}}},
    {"data":{"name":"roc"},"transform":[{"filter":"datum.c == 'lo' || datum.c == 'hi'"}],"mark":{"type":"line","color":"#c4c4c4","strokeWidth":1},
     "encoding":{"detail":{"field":"c","type":"nominal"},"order":{"field":"o","type":"quantitative"}}},
    {"data":{"name":"roc"},"transform":[{"filter":"datum.c == 'main'"}],"mark":{"type":"line","color":"#555555","strokeWidth":1.5},
     "encoding":{"order":{"field":"o","type":"quantitative"}}},
    {"data":{"values":[{"fx":101,"ty":13,"t":"AUC 0.962"},{"fx":101,"ty":3.5,"t":"[CI 0.897–1.00]"}]},"mark":{"type":"text","align":"right","baseline":"middle","fontSize":7.5,"color":"#222"},
     "encoding":{"text":{"field":"t"}}}
   ]}
 ]}
]}
]
}
